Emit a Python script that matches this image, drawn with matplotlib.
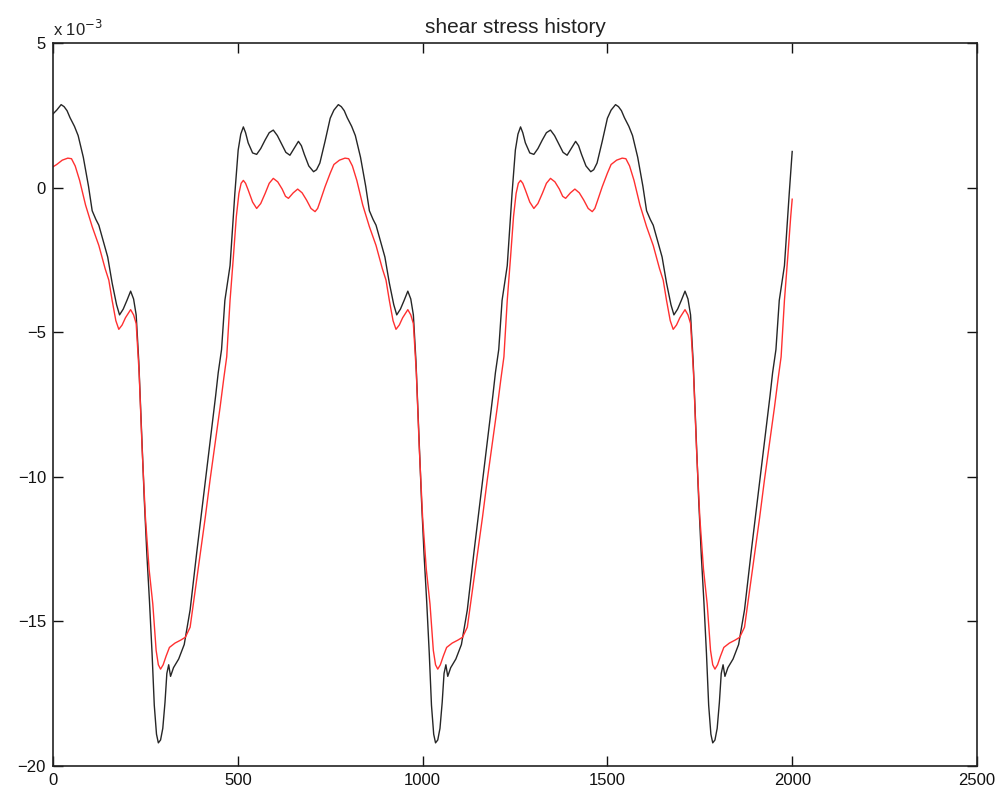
import matplotlib
matplotlib.use("Agg")
import matplotlib.pyplot as plt

# ---------------- data (values in units of 1e-3) ----------------
# black curve, cycle 1
black_x_c1 = [0, 10, 22, 30, 38, 46, 58, 68, 82, 96,
              106, 116, 124, 136, 148, 160, 172, 180, 190, 200,
              210, 218, 225, 232, 240, 247, 254, 261, 268, 274,
              280, 285, 291, 297, 303, 308, 313, 318, 326, 340,
              355, 371, 389, 407, 425, 440, 447, 456, 465, 479,
              492, 501, 508, 515, 521, 528, 540, 551, 562, 574,
              585, 596, 607, 619, 630, 641, 652, 664, 672, 680,
              692, 705, 713, 722, 736]
black_y_c1 = [2.55, 2.68, 2.87, 2.80, 2.66, 2.42, 2.12, 1.80, 1.05, 0.05,
              -0.80, -1.10, -1.30, -1.85, -2.40, -3.30, -4.05, -4.40, -4.20, -3.90,
              -3.58, -3.85, -4.40, -6.00, -8.60, -10.80, -12.70, -14.30, -16.10, -17.90,
              -18.90, -19.20, -19.10, -18.70, -17.80, -16.80, -16.50, -16.90, -16.60, -16.30,
              -15.80, -14.60, -12.60, -10.70, -8.80, -7.20, -6.40, -5.60, -3.90, -2.70,
              -0.20, 1.30, 1.85, 2.10, 1.90, 1.55, 1.20, 1.15, 1.35, 1.65,
              1.90, 1.99, 1.80, 1.50, 1.22, 1.12, 1.35, 1.60, 1.45, 1.15,
              0.75, 0.55, 0.62, 0.85, 1.60]

# black curve, cycle 2
black_x_c2 = [750, 760, 772, 780, 788, 796, 808, 818, 832, 846,
              856, 866, 874, 886, 898, 910, 922, 930, 940, 950,
              960, 968, 975, 982, 990, 997, 1004, 1011, 1018, 1024,
              1030, 1035, 1041, 1047, 1053, 1058, 1063, 1068, 1076, 1090,
              1105, 1121, 1139, 1157, 1175, 1190, 1197, 1206, 1215, 1229,
              1242, 1251, 1258, 1265, 1271, 1278, 1290, 1301, 1312, 1324,
              1335, 1346, 1357, 1369, 1380, 1391, 1402, 1414, 1422, 1430,
              1442, 1455, 1463, 1472, 1486]
black_y_c2 = [2.40, 2.68, 2.87, 2.80, 2.66, 2.42, 2.12, 1.80, 1.05, 0.05,
              -0.80, -1.10, -1.30, -1.85, -2.40, -3.30, -4.05, -4.40, -4.20, -3.90,
              -3.58, -3.85, -4.40, -6.00, -8.60, -10.80, -12.70, -14.30, -16.10, -17.90,
              -18.90, -19.20, -19.10, -18.70, -17.80, -16.80, -16.50, -16.90, -16.60, -16.30,
              -15.80, -14.60, -12.60, -10.70, -8.80, -7.20, -6.40, -5.60, -3.90, -2.70,
              -0.20, 1.30, 1.85, 2.10, 1.90, 1.55, 1.20, 1.15, 1.35, 1.65,
              1.90, 1.99, 1.80, 1.50, 1.22, 1.12, 1.35, 1.60, 1.45, 1.15,
              0.75, 0.55, 0.62, 0.85, 1.60]

# black curve, cycle 3 (ends at 2000)
black_x_c3 = [1500, 1510, 1522, 1530, 1538, 1546, 1558, 1568, 1582, 1596,
              1606, 1616, 1624, 1636, 1648, 1660, 1672, 1680, 1690, 1700,
              1710, 1718, 1725, 1732, 1740, 1747, 1754, 1761, 1768, 1774,
              1780, 1785, 1791, 1797, 1803, 1808, 1813, 1818, 1826, 1840,
              1855, 1871, 1889, 1907, 1925, 1940, 1947, 1956, 1965, 1979,
              1992, 2000]
black_y_c3 = [2.40, 2.68, 2.87, 2.80, 2.66, 2.42, 2.12, 1.80, 1.05, 0.05,
              -0.80, -1.10, -1.30, -1.85, -2.40, -3.30, -4.05, -4.40, -4.20, -3.90,
              -3.58, -3.85, -4.40, -6.00, -8.60, -10.80, -12.70, -14.30, -16.10, -17.90,
              -18.90, -19.20, -19.10, -18.70, -17.80, -16.80, -16.50, -16.90, -16.60, -16.30,
              -15.80, -14.60, -12.60, -10.70, -8.80, -7.20, -6.40, -5.60, -3.90, -2.70,
              -0.20, 1.25]

# red curve, cycle 1
red_x_c1 = [0, 10, 25, 40, 50, 60, 72, 88, 106, 124,
            141, 151, 160, 170, 178, 187, 196, 210, 218, 225,
            233, 241, 250, 260, 270, 279, 285, 291, 298, 306,
            315, 330, 345, 358, 371, 385, 398, 412, 425, 440,
            452, 462, 470, 479, 488, 496, 503, 509, 515, 521,
            528, 540, 551, 562, 574, 585, 596, 608, 620, 629,
            637, 650, 662, 674, 686, 698, 709, 716, 722, 736]
red_y_c1 = [0.72, 0.80, 0.95, 1.02, 1.00, 0.75, 0.25, -0.60, -1.35, -2.00,
            -2.80, -3.20, -3.90, -4.60, -4.90, -4.75, -4.50, -4.22, -4.40, -4.70,
            -6.40, -9.00, -11.40, -13.20, -14.40, -16.00, -16.50, -16.65, -16.50, -16.20,
            -15.90, -15.75, -15.65, -15.55, -15.20, -13.90, -12.70, -11.40, -10.10, -8.70,
            -7.60, -6.60, -5.85, -3.90, -2.40, -1.00, -0.20, 0.15, 0.25, 0.15,
            -0.08, -0.50, -0.72, -0.55, -0.20, 0.15, 0.32, 0.20, -0.05, -0.30,
            -0.37, -0.18, -0.05, -0.18, -0.43, -0.72, -0.83, -0.72, -0.50, 0.03]

# red curve, cycle 2
red_x_c2 = [750, 760, 775, 790, 800, 810, 822, 838, 856, 874,
            891, 901, 910, 920, 928, 937, 946, 960, 968, 975,
            983, 991, 1000, 1010, 1020, 1029, 1035, 1041, 1048, 1056,
            1065, 1080, 1095, 1108, 1121, 1135, 1148, 1162, 1175, 1190,
            1202, 1212, 1220, 1229, 1238, 1246, 1253, 1259, 1265, 1271,
            1278, 1290, 1301, 1312, 1324, 1335, 1346, 1358, 1370, 1379,
            1387, 1400, 1412, 1424, 1436, 1448, 1459, 1466, 1472, 1486]
red_y_c2 = [0.50, 0.80, 0.95, 1.02, 1.00, 0.75, 0.25, -0.60, -1.35, -2.00,
            -2.80, -3.20, -3.90, -4.60, -4.90, -4.75, -4.50, -4.22, -4.40, -4.70,
            -6.40, -9.00, -11.40, -13.20, -14.40, -16.00, -16.50, -16.65, -16.50, -16.20,
            -15.90, -15.75, -15.65, -15.55, -15.20, -13.90, -12.70, -11.40, -10.10, -8.70,
            -7.60, -6.60, -5.85, -3.90, -2.40, -1.00, -0.20, 0.15, 0.25, 0.15,
            -0.08, -0.50, -0.72, -0.55, -0.20, 0.15, 0.32, 0.20, -0.05, -0.30,
            -0.37, -0.18, -0.05, -0.18, -0.43, -0.72, -0.83, -0.72, -0.50, 0.03]

# red curve, cycle 3 (ends at 2000)
red_x_c3 = [1500, 1510, 1525, 1540, 1550, 1560, 1572, 1588, 1606, 1624,
            1641, 1651, 1660, 1670, 1678, 1687, 1696, 1710, 1718, 1725,
            1733, 1741, 1750, 1760, 1770, 1779, 1785, 1791, 1798, 1806,
            1815, 1830, 1845, 1858, 1871, 1885, 1898, 1912, 1925, 1940,
            1952, 1962, 1970, 1979, 1988, 1996, 2000]
red_y_c3 = [0.50, 0.80, 0.95, 1.02, 1.00, 0.75, 0.25, -0.60, -1.35, -2.00,
            -2.80, -3.20, -3.90, -4.60, -4.90, -4.75, -4.50, -4.22, -4.40, -4.70,
            -6.40, -9.00, -11.40, -13.20, -14.40, -16.00, -16.50, -16.65, -16.50, -16.20,
            -15.90, -15.75, -15.65, -15.55, -15.20, -13.90, -12.70, -11.40, -10.10, -8.70,
            -7.60, -6.60, -5.85, -3.90, -2.40, -1.00, -0.40]

x_ticks = [0, 500, 1000, 1500, 2000, 2500]
y_ticks = [-20, -15, -10, -5, 0, 5]
title_text = "shear stress history"
exponent_text = r"x 10$^{-3}$"

# ---------------- plot ----------------
plt.rcParams['font.family'] = ['Liberation Sans', 'DejaVu Sans']

fig = plt.figure(figsize=(10.04, 7.97), dpi=100)
ax = fig.add_axes([0.0528, 0.0389, 0.9203, 0.9071])

black_x = black_x_c1 + black_x_c2 + black_x_c3
black_y = black_y_c1 + black_y_c2 + black_y_c3
red_x = red_x_c1 + red_x_c2 + red_x_c3
red_y = red_y_c1 + red_y_c2 + red_y_c3

ax.plot(black_x, black_y, color='#262626', lw=1.0, solid_joinstyle='round')
ax.plot(red_x, red_y, color='#ff3030', lw=1.0, solid_joinstyle='round')

ax.set_xlim(0, 2500)
ax.set_ylim(-20, 5)
ax.set_xticks(x_ticks)
ax.set_yticks(y_ticks)
ax.set_xticklabels([str(v) for v in x_ticks])
ax.set_yticklabels([str(v).replace('-', '\u2212') for v in y_ticks])
ax.tick_params(direction='in', top=True, right=True, length=7, width=1.0,
               labelsize=12, pad=5, colors='#111111')
for sp in ax.spines.values():
    sp.set_linewidth(1.2)
    sp.set_color('#222222')

ax.set_title(title_text, fontsize=15, pad=7, color='#222222')
ax.text(0.0, 1.006, exponent_text, transform=ax.transAxes, ha='left',
        va='bottom', fontsize=12, color='#222222')

fig.savefig("out.png", dpi=100)
